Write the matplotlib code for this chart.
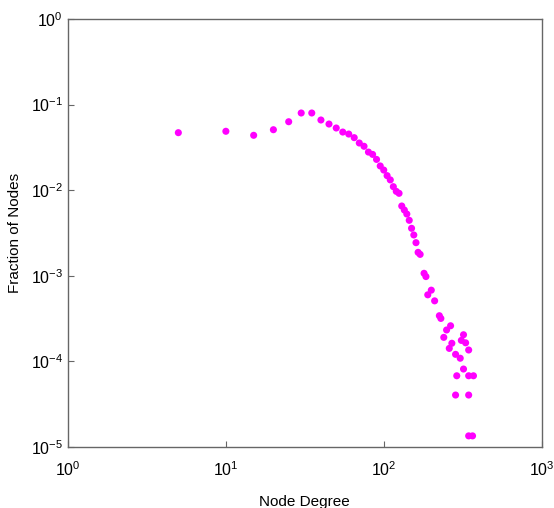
import matplotlib
matplotlib.use("Agg")
import matplotlib.pyplot as plt
from matplotlib.ticker import LogLocator, NullLocator

plt.rcParams['font.family'] = ['Liberation Sans', 'DejaVu Sans']
plt.rcParams['mathtext.fontset'] = 'custom'
plt.rcParams['mathtext.rm'] = 'Liberation Sans'
plt.rcParams['mathtext.it'] = 'Liberation Sans'
plt.rcParams['mathtext.default'] = 'regular'

degree = [5, 10, 15, 20, 25, 30, 35, 40, 45, 50, 55, 60, 65, 70, 75, 80, 85, 90,
          95, 100, 105, 110, 115, 120, 125, 130, 135, 140, 145, 150, 155, 160,
          165, 170, 180, 185, 190, 200, 210, 225, 230, 240, 250, 260, 265, 270,
          285, 290, 305, 310, 320, 320, 330, 345, 345, 370, 285, 345, 345, 365]
fraction = [0.0470, 0.0488, 0.0438, 0.0509, 0.0631, 0.0798, 0.0798, 0.0661,
            0.0593, 0.0533, 0.0478, 0.0453, 0.0411, 0.0356, 0.0326, 0.0279,
            0.0262, 0.0229, 0.0192, 0.0172, 0.0148, 0.0132, 0.0110, 0.0097,
            0.0092, 0.00654, 0.00587, 0.00527, 0.00445, 0.00359, 0.00300,
            0.00244, 0.00188, 0.00178, 0.00107, 0.00098, 0.00060, 0.00068,
            0.00051, 0.000342, 0.000318, 0.000191, 0.000233, 0.000142,
            0.000261, 0.000163, 0.000121, 0.000068, 0.000109, 0.000176,
            0.000205, 0.0000815, 0.000165, 0.000136, 0.000068, 0.000068,
            0.0000405, 0.0000405, 0.0000135, 0.0000135]

fig = plt.figure(figsize=(5.54, 5.08), dpi=100)
ax = fig.add_axes([0.1227, 0.12, 0.855, 0.8426])
ax.scatter(degree, fraction, s=26, color='#ff00ff', edgecolors='none', zorder=3)
ax.set_xscale('log')
ax.set_yscale('log')
ax.set_xlim(1, 1000)
ax.set_ylim(1e-5, 1)
ax.xaxis.set_major_locator(LogLocator(base=10, numticks=10))
ax.yaxis.set_major_locator(LogLocator(base=10, numticks=10))
ax.xaxis.set_minor_locator(NullLocator())
ax.yaxis.set_minor_locator(NullLocator())
for s in ax.spines.values():
    s.set_color('#666666')
    s.set_linewidth(1.0)
ax.tick_params(which='major', direction='in', length=4, width=0.8,
               colors='#666666', labelcolor='black', labelsize=11.5)
ax.tick_params(axis='x', pad=9.5)
ax.tick_params(axis='y', pad=3.5)
for lbl in ax.get_yticklabels():
    lbl.set_va('center_baseline')
ax.set_xlabel('Node Degree', fontsize=11, labelpad=11.5)
ax.set_ylabel('Fraction of Nodes', fontsize=11, labelpad=6)
fig.savefig('out.png', dpi=100)
